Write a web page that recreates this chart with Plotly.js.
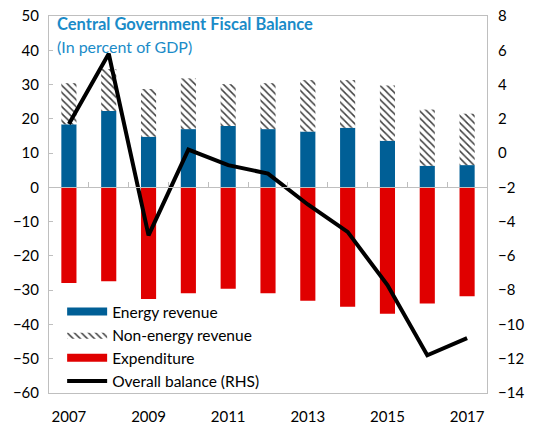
<!DOCTYPE html>
<html>
<head>
<meta charset="utf-8">
<script src="https://cdn.plot.ly/plotly-3.0.1.min.js"></script>
<style>html,body{margin:0;padding:0;background:#fff;}#chart{width:534px;height:429px;}</style>
</head>
<body>
<div id="chart"></div>
<script>
const years = [2007, 2008, 2009, 2010, 2011, 2012, 2013, 2014, 2015, 2016, 2017];
const energyRevenue = [18.4, 22.3, 14.8, 17.0, 17.9, 17.0, 16.3, 17.4, 13.6, 6.3, 6.5];
const nonEnergyRevenue = [12.0, 12.2, 13.9, 14.8, 12.2, 13.4, 15.0, 13.9, 16.1, 16.4, 15.0];
const expenditure = [-27.9, -27.4, -32.6, -30.9, -29.6, -30.9, -33.1, -34.8, -36.9, -33.9, -31.8];
const overallBalance = [1.7, 5.8, -4.8, 0.2, -0.7, -1.2, -3.0, -4.6, -7.7, -11.8, -10.8];
const xTickLabels = ['2007', '2009', '2011', '2013', '2015', '2017'];
const xTickVals = xTickLabels.map(Number);
const boundaryTicks = years.slice(0, -1).map(y => y + 0.5);

const FONT = 'Lato, "Noto Sans", sans-serif';
const BLUE = '#005f96', RED = '#e00000';
const xRange = [years[0] - 0.5, years[years.length - 1] + 0.5];
const hatch = {shape: '\\', fgcolor: '#404040', bgcolor: '#ffffff', size: 5, solidity: 0.3};

const traces = [
  {type: 'bar', name: 'Energy revenue', x: years, y: energyRevenue, showlegend: false,
   marker: {color: BLUE, line: {width: 0}}},
  {type: 'bar', name: 'Non-energy revenue', x: years, y: nonEnergyRevenue, showlegend: false,
   marker: {color: '#ffffff', line: {width: 0}, pattern: hatch}},
  {type: 'bar', name: 'Expenditure', x: years, y: expenditure, showlegend: false,
   marker: {color: RED, line: {width: 0}}},
  // legend-only entries (wide swatches like the original)
  {type: 'scatter', mode: 'lines', name: 'Energy revenue', x: [null], y: [null],
   line: {color: BLUE, width: 8}, legendrank: 1},
  {type: 'scatter', mode: 'lines', name: 'Non-energy revenue', x: [null], y: [null],
   fill: 'toself', fillcolor: '#ffffff', fillpattern: hatch, line: {width: 0, color: 'rgba(0,0,0,0)'}, legendrank: 2},
  {type: 'scatter', mode: 'lines', name: 'Expenditure', x: [null], y: [null],
   line: {color: RED, width: 8}, legendrank: 3},
  {type: 'scatter', mode: 'lines', name: 'Overall balance (RHS)', x: years, y: overallBalance,
   xaxis: 'x2', yaxis: 'y2', line: {color: '#000000', width: 4}, legendrank: 4}
];

const zeroFrac = (0 - (-60)) / (50 - (-60));

const layout = {
  width: 534, height: 429,
  margin: {l: 49, r: 47, t: 16, b: 36},
  paper_bgcolor: '#ffffff', plot_bgcolor: '#ffffff',
  font: {family: FONT, size: 15, color: '#000000'},
  barmode: 'relative', bargap: 0.62,
  showlegend: true,
  legend: {x: 0.03, y: 0.26, xanchor: 'left', yanchor: 'top',
           bgcolor: 'rgba(0,0,0,0)', font: {family: FONT, size: 15.5, color: '#000'},
           tracegroupgap: 0, itemwidth: 40, traceorder: 'normal'},
  xaxis: {range: xRange, tickmode: 'array', tickvals: xTickVals, ticktext: xTickLabels,
          ticks: '', showline: true, mirror: true, linecolor: '#bfbfbf', linewidth: 1,
          showgrid: false, zeroline: false, ticklabelstandoff: 10, fixedrange: true},
  xaxis2: {range: xRange, overlaying: 'x', anchor: 'free', position: zeroFrac,
           tickmode: 'array', tickvals: boundaryTicks, ticks: 'inside', ticklen: 5,
           tickcolor: '#bfbfbf', showticklabels: false, showline: true, linecolor: '#bfbfbf',
           linewidth: 1, showgrid: false, zeroline: false},
  yaxis: {range: [-60, 50], dtick: 10, tick0: 0, ticks: 'inside', ticklen: 4, tickcolor: '#bfbfbf',
          showline: true, mirror: true, linecolor: '#bfbfbf', showgrid: false, zeroline: false,
          ticklabelstandoff: 6},
  yaxis2: {range: [-14, 8], dtick: 2, tick0: 0, overlaying: 'y', side: 'right', anchor: 'x',
           ticks: '', showline: false, showgrid: false, zeroline: false, ticklabelstandoff: 10},
  annotations: [
    {text: '<b>Central Government Fiscal Balance</b>', xref: 'paper', yref: 'paper',
     x: 0.013, y: 0.979, xanchor: 'left', yanchor: 'middle', showarrow: false,
     font: {family: FONT, size: 16.5, color: '#1a8bc8'}},
    {text: '(In percent of GDP)', xref: 'paper', yref: 'paper',
     x: 0.013, y: 0.920, xanchor: 'left', yanchor: 'middle', showarrow: false,
     font: {family: FONT, size: 16, color: '#1a8bc8'}}
  ]
};

Plotly.newPlot('chart', traces, layout, {displayModeBar: false, staticPlot: true});
</script>
</body>
</html>
